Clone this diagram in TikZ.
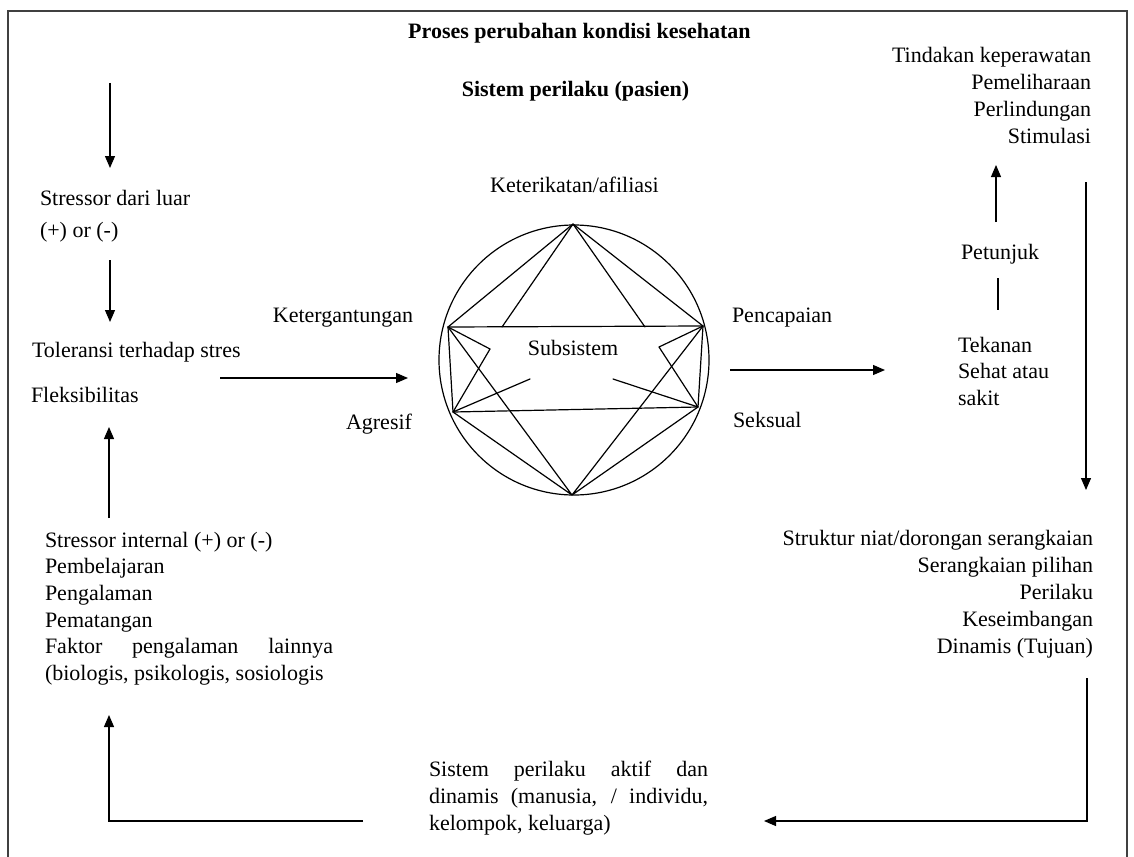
\documentclass[tikz,border=0pt]{standalone}
\usepackage{fontspec}
\setmainfont{Liberation Serif}
\usetikzlibrary{arrows.meta}
\begin{document}
\begin{tikzpicture}[x=1pt,y=-1pt,
  every node/.style={inner sep=0pt, outer sep=0pt, font=\fontsize{22}{27}\selectfont},
  bf/.style={font=\fontsize{22}{27}\selectfont\bfseries},
  tight/.style={font=\fontsize{22}{26.6}\selectfont},
  arr/.style={line width=1.2pt, -{Triangle[length=12pt,width=10pt]}},
  ln/.style={line width=1.2pt},
  hex/.style={line width=1.2pt, line join=round, line cap=round}]
\useasboundingbox (0,0) rectangle (1134,856);
\fill[white] (0,0) rectangle (1134,856);
% frame
\draw[line width=1.5pt, black!75] (8,862) -- (8,11) -- (1127,11) -- (1127,862);

% titles
\node[bf, anchor=base] (title) at (579.5,39) {Proses perubahan kondisi kesehatan};
\node[bf, anchor=base] (sys) at (575.5,97) {Sistem perilaku (pasien)};
\node[anchor=base] (afil) at (574.5,192) {Keterikatan/afiliasi};

% left column
\coordinate (a1s) at (110,83);
\coordinate (a1e) at (110,168);
\draw[arr] (a1s) -- (a1e);
\node[anchor=north west, align=left] (ext) at (40,190) {Stressor dari luar\\[5pt](+) or (-)};
\coordinate (a2s) at (110,260);
\coordinate (a2e) at (110,322);
\draw[arr] (a2s) -- (a2e);
\node[anchor=base west] (tol) at (32,357) {Toleransi terhadap stres};
\node[anchor=base west] (flex) at (31,402) {Fleksibilitas};
\coordinate (h1s) at (220,378);
\coordinate (h1e) at (408,378);
\draw[arr] (h1s) -- (h1e);
\node[anchor=base east] (dep) at (413,322) {Ketergantungan};
\node[anchor=base east] (agr) at (412,429) {Agresif};
\coordinate (a3s) at (109,518);
\coordinate (a3e) at (109,427);
\draw[arr] (a3s) -- (a3e);
\node[tight, anchor=north west, align=left] (int) at (45,532) {Stressor internal (+) or (-)\\Pembelajaran\\Pengalaman\\Pematangan\\\makebox[288pt][s]{Faktor pengalaman lainnya}\\(biologis, psikologis, sosiologis};

% bottom loop
\coordinate (b1) at (363,821);
\coordinate (b2) at (109,821);
\coordinate (b3) at (109,715);
\draw[arr] (b1) -- (b2) -- (b3);
\node[anchor=north west, align=left] (act) at (429,761) {\makebox[279pt][s]{Sistem perilaku aktif dan}\\\makebox[279pt][s]{dinamis (manusia, / individu,}\\kelompok, keluarga)};
\coordinate (r1) at (1087,678);
\coordinate (r2) at (1087,821);
\coordinate (r3) at (764,821);
\draw[arr] (r1) -- (r2) -- (r3);

% right column
\node[anchor=north east, align=right] (nurse) at (1091,47) {Tindakan keperawatan\\Pemeliharaan\\Perlindungan\\Stimulasi};
\coordinate (u1s) at (996,222);
\coordinate (u1e) at (996,165);
\draw[arr] (u1s) -- (u1e);
\node[anchor=base west] (pet) at (961,259) {Petunjuk};
\coordinate (p1) at (998,278);
\coordinate (p2) at (998,310);
\draw[ln] (p1) -- (p2);
\node[tight, anchor=north west, align=left] (press) at (958,337) {Tekanan\\Sehat atau\\sakit};
\node[anchor=base west] (ach) at (732,322) {Pencapaian};
\node[anchor=base west] (sex) at (733,427) {Seksual};
\coordinate (h2s) at (730,370);
\coordinate (h2e) at (885,370);
\draw[arr] (h2s) -- (h2e);
\coordinate (d1s) at (1086,182);
\coordinate (d1e) at (1086,490);
\draw[arr] (d1s) -- (d1e);
\node[anchor=north east, align=right] (struct) at (1093,530) {Struktur niat/dorongan serangkaian\\Serangkaian pilihan\\Perilaku\\Keseimbangan\\Dinamis (Tujuan)};

% subsystem circle
\node[circle, draw, line width=1.2pt, minimum size=270pt] (circ) at (574,360) {};
\node[anchor=base] (subs) at (573,355) {Subsistem};
\coordinate (T) at (573,224);
\coordinate (B) at (572,495);
\coordinate (UL) at (448,327);
\coordinate (UR) at (703,326);
\coordinate (LL) at (453,412);
\coordinate (LR) at (698,407);
\coordinate (P1) at (502,327);
\coordinate (P2) at (645,327);
\coordinate (Z1) at (490,349);
\coordinate (Z2) at (659,347);
\coordinate (S1) at (530,379);
\coordinate (S2) at (613,379);
\draw[hex] (UL) -- (T) -- (UR);
\draw[hex] (P1) -- (T) -- (P2);
\draw[hex] (UL) -- (UR) -- (LR) -- (LL) -- cycle;
\draw[hex] (UL) -- (B) -- (LL);
\draw[hex] (UR) -- (B) -- (LR);
\draw[hex] (UL) -- (Z1) -- (LL) -- (S1);
\draw[hex] (UR) -- (Z2) -- (LR) -- (S2);
\end{tikzpicture}
\end{document}
